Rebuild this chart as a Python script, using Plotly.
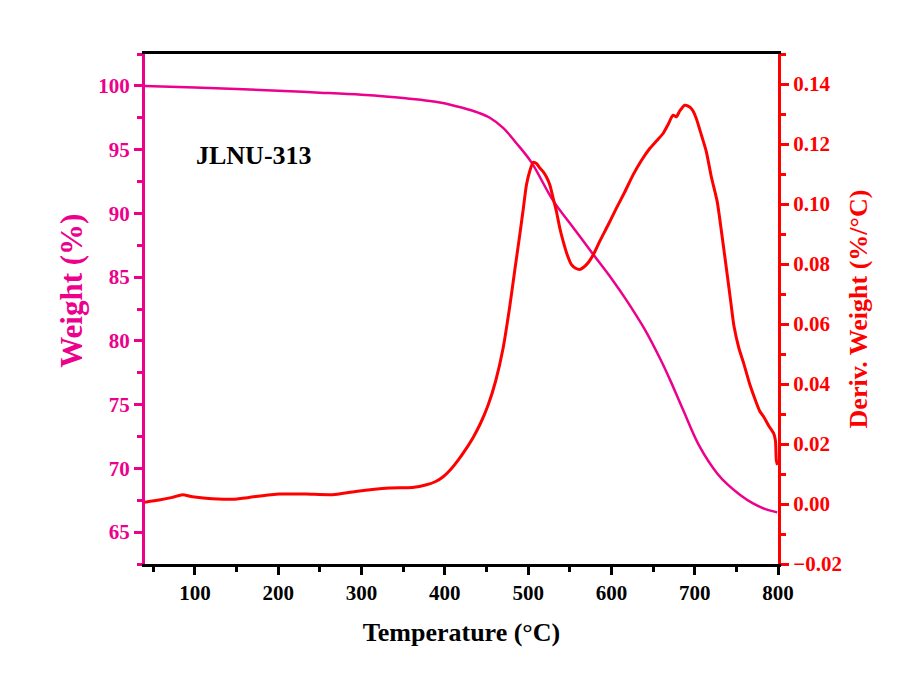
import plotly.graph_objects as go

# Thermogravimetric (TGA) weight curve
tga_temp = [40, 100, 150, 200, 250, 300, 350, 394, 420, 440, 454, 470, 486, 504,
            530, 554, 578, 600, 618, 640, 660, 670, 686, 706, 727, 740, 755, 770,
            785, 799]
tga_weight = [100.0, 99.88, 99.76, 99.62, 99.47, 99.3, 99.05, 98.7, 98.3, 97.9,
              97.5, 96.7, 95.5, 94.0, 91.0, 88.9, 86.8, 84.9, 83.2, 80.9, 78.4,
              77.0, 74.6, 71.7, 69.6, 68.7, 67.9, 67.25, 66.8, 66.55]

# Derivative weight (DTG) curve
dtg_temp = [40, 57, 73, 85, 97, 113, 145, 165, 201, 233, 265, 293, 333, 361, 378,
            389, 398, 407, 416, 425, 434, 443, 452, 461, 470, 478, 484, 490, 494,
            498, 502, 506, 510, 514, 518, 522, 526, 530, 534, 538, 542, 547, 552,
            557, 562, 567, 572, 579, 586, 596, 606, 616, 626, 636, 646, 654, 662,
            668, 674, 678, 682, 688, 694, 698, 702, 708, 714, 720, 727, 733, 739,
            743, 747, 753, 759, 766, 773, 778, 783, 789, 795, 797, 798, 799.5]
dtg_value = [0.0006, 0.0013, 0.0022, 0.0031, 0.0024, 0.0019, 0.0016, 0.0022,
             0.0033, 0.0033, 0.0031, 0.0042, 0.0053, 0.0055, 0.0064, 0.0075,
             0.0091, 0.0115, 0.0146, 0.0182, 0.0222, 0.027, 0.033, 0.041, 0.052,
             0.066, 0.078, 0.0898, 0.098, 0.1064, 0.111, 0.1139, 0.1135, 0.112,
             0.1108, 0.109, 0.1064, 0.102, 0.0975, 0.092, 0.0876, 0.083, 0.0798,
             0.0786, 0.0782, 0.079, 0.0804, 0.0835, 0.0876, 0.093, 0.0986, 0.104,
             0.1097, 0.1145, 0.1185, 0.121, 0.1235, 0.1265, 0.1296, 0.1291, 0.131,
             0.1329, 0.1323, 0.131, 0.1284, 0.123, 0.1174, 0.109, 0.1008, 0.089,
             0.0765, 0.068, 0.0595, 0.052, 0.0467, 0.040, 0.0345, 0.031, 0.029,
             0.026, 0.0234, 0.021, 0.0146, 0.013]

sample_label = "JLNU-313"

MAGENTA = "#EC008C"
RED = "#FF0000"
FONT = "Liberation Serif"

fig = go.Figure()
fig.add_trace(go.Scatter(x=tga_temp, y=tga_weight, mode="lines",
                         line=dict(color=MAGENTA, width=2.5, shape="spline"),
                         yaxis="y"))
fig.add_trace(go.Scatter(x=dtg_temp, y=dtg_value, mode="lines",
                         line=dict(color=RED, width=3, shape="spline",
                                   smoothing=0.6),
                         yaxis="y2"))

fig.add_annotation(text="<b>" + sample_label + "</b>", x=171, y=94.55,
                   xref="x", yref="y", showarrow=False,
                   font=dict(family=FONT, size=26, color="black"))

# Left axis title, drawn as rotated text beside the weight axis
fig.add_annotation(text="<b>Weight (%)</b>", textangle=-90,
                   x=-0.116, y=0.535, xref="paper", yref="paper",
                   xanchor="center", yanchor="middle", showarrow=False,
                   font=dict(family=FONT, size=31, color=MAGENTA))

fig.update_layout(
    width=912, height=689,
    margin=dict(l=145, r=134, t=54, b=125),
    plot_bgcolor="white", paper_bgcolor="white",
    showlegend=False,
    xaxis=dict(
        range=[40, 800], tick0=0, dtick=100,
        ticks="outside", ticklen=8, tickwidth=3, tickcolor="black",
        showline=True, linewidth=3, linecolor="black", mirror=True,
        showgrid=False, zeroline=False,
        minor=dict(dtick=50, ticks="outside", ticklen=5, tickwidth=3,
                   tickcolor="black", showgrid=False),
        tickfont=dict(family=FONT, size=21, color="black", weight="bold"),
        title=dict(text="Temperature (°C)", standoff=19,
                   font=dict(family=FONT, size=26, color="black", weight="bold")),
        automargin=False,
    ),
    yaxis=dict(
        range=[62.5, 102.5], tick0=0, dtick=5,
        ticks="outside", ticklen=8, tickwidth=3, tickcolor=MAGENTA,
        showline=True, linewidth=3, linecolor=MAGENTA,
        showgrid=False, zeroline=False,
        minor=dict(dtick=2.5, ticks="outside", ticklen=5, tickwidth=3,
                   tickcolor=MAGENTA, showgrid=False),
        tickfont=dict(family=FONT, size=21, color=MAGENTA, weight="bold"),
        automargin=False,
    ),
    yaxis2=dict(
        range=[-0.02, 0.15], tick0=0, dtick=0.02, tickformat=".2f",
        overlaying="y", side="right", anchor="x",
        ticks="outside", ticklen=8, tickwidth=3, tickcolor=RED,
        showline=True, linewidth=3, linecolor=RED,
        showgrid=False, zeroline=False,
        minor=dict(dtick=0.01, ticks="outside", ticklen=5, tickwidth=3,
                   tickcolor=RED, showgrid=False),
        tickfont=dict(family=FONT, size=21, color=RED, weight="bold"),
        title=dict(text="Deriv. Weight (%/°C)", standoff=8,
                   font=dict(family=FONT, size=26, color=RED, weight="bold")),
        automargin=False,
    ),
)

fig.write_html("out.html")
